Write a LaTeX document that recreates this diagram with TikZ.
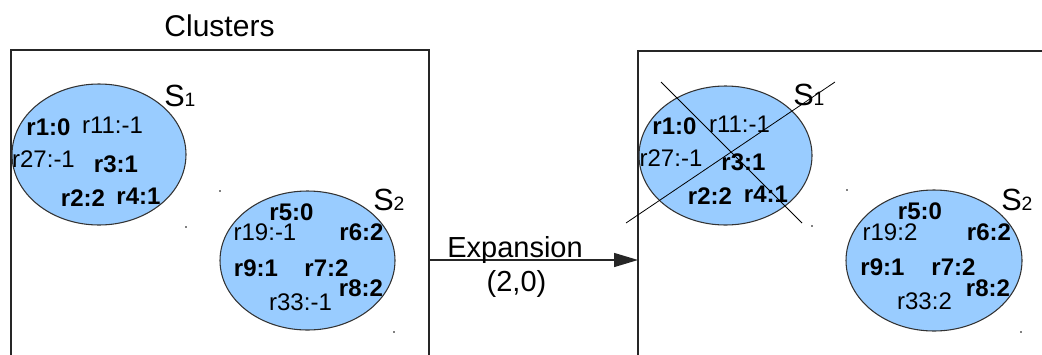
\documentclass[tikz,border=0pt]{standalone}
\usepackage{fontspec}
\setmainfont{Liberation Sans}
\usetikzlibrary{arrows.meta,positioning}
\definecolor{clusterblue}{HTML}{99CCFF}
\newcommand{\clname}[1]{{\fontsize{23pt}{23pt}\selectfont S}{\fontsize{14.5pt}{15pt}\selectfont #1}}

\begin{document}
\begin{tikzpicture}[x=0.75pt,y=-0.75pt,
    panel/.style={line width=1.1pt,draw=black!85},
    cluster/.style={fill=clusterblue,draw=black!80,line width=0.8pt},
    rl/.style={anchor=base,inner sep=0pt,font=\fontsize{18pt}{18pt}\selectfont},
    rb/.style={anchor=base,inner sep=0pt,font=\fontsize{18pt}{18pt}\selectfont\bfseries},
    sl/.style={anchor=base west,inner sep=0pt},
    big/.style={anchor=base,inner sep=0pt,font=\fontsize{21.75pt}{22pt}\selectfont}]
            \useasboundingbox (0,0) rectangle (1042,354);
            \clip (0,0) rectangle (1042,354);
            \coordinate (p1) at (11,50);
            \coordinate (p2) at (429,400);
            \coordinate (q1) at (638,51);
            \coordinate (q2) at (1056,400);
            \coordinate (e1) at (429,260);
            \coordinate (e2) at (638,260);
            \coordinate (c1) at (99,154.5);
            \coordinate (c2) at (307.5,260.5);
            \coordinate (c3) at (725.5,155.5);
            \coordinate (c4) at (934,260.5);
            \coordinate (k1) at (661,82);
            \coordinate (k2) at (802,223);
            \coordinate (k3) at (626,223);
            \coordinate (k4) at (835,82);
            %Panels
            \draw[panel] (p1) rectangle (p2);
            \draw[panel] (q1) rectangle (q2);
            \draw[panel,-{Triangle[length=18pt,width=10.5pt]}] (e1) -- (e2);
            %Clusters
            \draw[cluster] (c1) ellipse [x radius=87, y radius=70.5];
            \draw[cluster] (c2) ellipse [x radius=87.5, y radius=69.5];
            \draw[cluster] (c3) ellipse [x radius=86.5, y radius=69.5];
            \draw[cluster] (c4) ellipse [x radius=88, y radius=70.5];
            %Cross out S1
            \draw[line width=0.6pt] (k1) -- (k2);
            \draw[line width=0.6pt] (k3) -- (k4);
            %Dots
            \fill (220,191) circle (0.8);
            \fill (186,227) circle (0.8);
            \fill (394,332) circle (0.8);
            \fill (847,190) circle (0.8);
            \fill (812,226) circle (0.8);
            \fill (1021,332) circle (0.8);

            %Titles
            \node[big,font=\fontsize{22.5pt}{23pt}\selectfont] (title) at (219.5,36) {Clusters};
            \node[big] (exp) at (515,257) {Expansion};
            \node[big] (shift) at (516.5,291) {(2,0)};
            \node[sl] (sa1) at (164,106) {\clname{1}};
            \node[sl] (sa2) at (373,210.7) {\clname{2}};
            \node[sl] (sb1) at (793,105) {\clname{1}};
            \node[sl] (sb2) at (1001,210) {\clname{2}};

            %Left S1
            \node[rb] (a1) at (48.5,135) {r1:0};
            \node[rl] (a11) at (112.5,133) {r11:-1};
            \node[rl] (a27) at (43.5,167) {r27:-1};
            \node[rb] (a3) at (116,172) {r3:1};
            \node[rb] (a2) at (83,206) {r2:2};
            \node[rb] (a4) at (138.5,204) {r4:1};
            %Left S2
            \node[rb] (a5) at (291.5,220) {r5:0};
            \node[rl] (a19) at (265,240.7) {r19:-1};
            \node[rb] (a6) at (361.5,240.7) {r6:2};
            \node[rb] (a9) at (256,276) {r9:1};
            \node[rb] (a7) at (326.5,276) {r7:2};
            \node[rb] (a8) at (361,296.7) {r8:2};
            \node[rl] (a33) at (300.5,310) {r33:-1};
            %Right S1
            \node[rb] (b1) at (674.5,134) {r1:0};
            \node[rl] (b11) at (739.5,132) {r11:-1};
            \node[rl] (b27) at (671,166.7) {r27:-1};
            \node[rb] (b3) at (743.5,170) {r3:1};
            \node[rb] (b2) at (710,204) {r2:2};
            \node[rb] (b4) at (766,202.7) {r4:1};
            %Right S2
            \node[rb] (b5) at (920,219) {r5:0};
            \node[rl] (b19) at (890,240) {r19:2};
            \node[rb] (b6) at (989,240) {r6:2};
            \node[rb] (b9) at (882.5,275) {r9:1};
            \node[rb] (b7) at (953.5,275) {r7:2};
            \node[rb] (b8) at (988,296.7) {r8:2};
            \node[rl] (b33) at (924.5,309) {r33:2};
        \end{tikzpicture}
\end{document}
